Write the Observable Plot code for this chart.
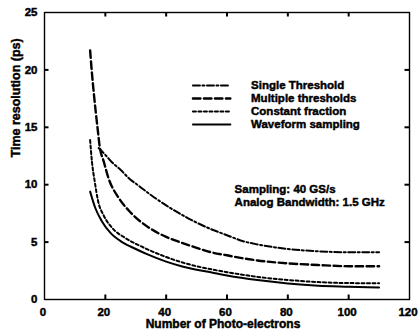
<!DOCTYPE html>
<html>
<head>
<meta charset="utf-8">
<script src="https://cdn.jsdelivr.net/npm/d3@7"></script>
<script src="https://cdn.jsdelivr.net/npm/@observablehq/plot@0.6"></script>
<style>
  html, body { margin: 0; padding: 0; background: #fff; }
  #chart svg { display: block; overflow: visible; }
  #chart svg text { font-weight: 700; fill: #000; stroke: #000; stroke-width: 0.45px; }
</style>
</head>
<body>
<div id="chart"></div>
<script>
// Time resolution (ps) versus number of photo-electrons for four timing methods.
const seriesNames = ["Single Threshold", "Multiple thresholds", "Constant fraction", "Waveform sampling"];

const singleX = [17.8, 20, 22, 25, 28, 30, 35, 40, 45, 50, 55, 60, 65, 70, 80, 90, 100, 110];
const singleY = [13.2, 12.6, 12.0, 11.3, 10.5, 10.1, 9.1, 8.2, 7.4, 6.7, 6.1, 5.6, 5.1, 4.8, 4.4, 4.2, 4.12, 4.12];

const multipleX = [15, 15.6, 16.2, 16.9, 17.5, 18.1, 19.5, 21, 24.4, 27.7, 32, 35, 40, 45, 50, 55, 60, 65, 70, 80, 90, 100, 110];
const multipleY = [21.7, 19.7, 18.0, 16.2, 14.8, 13.4, 12.0, 10.6, 8.85, 7.75, 6.7, 6.15, 5.45, 4.95, 4.5, 4.1, 3.85, 3.6, 3.4, 3.15, 3.0, 2.9, 2.9];

const constantX = [15, 15.6, 16.5, 17.6, 19.5, 22.2, 26.6, 32, 40, 45, 50, 55, 60, 70, 80, 90, 100, 110];
const constantY = [13.9, 12.0, 10.3, 8.6, 7.3, 6.25, 5.35, 4.6, 3.7, 3.25, 2.9, 2.62, 2.38, 1.97, 1.7, 1.52, 1.43, 1.42];

const waveformX = [15, 16.7, 18.9, 21.7, 25.5, 30, 33.7, 40, 45, 50, 55, 60, 70, 80, 90, 100, 110];
const waveformY = [9.4, 7.97, 6.8, 5.8, 5.0, 4.4, 3.95, 3.3, 2.9, 2.6, 2.35, 2.1, 1.7, 1.4, 1.2, 1.12, 1.05];

const xTicks = [0, 20, 40, 60, 80, 100, 120];
const yTicks = [0, 5, 10, 15, 20, 25];
const notes = ["Sampling: 40 GS/s", "Analog Bandwidth: 1.5 GHz"];

// Line appearance per series
const styles = [
  {dash: "7,2.5,2,2.5", width: 2.0},
  {dash: "7.5,3.5", width: 2.4},
  {dash: "3,2.5", width: 2.0},
  {dash: null, width: 2.0}
];

const seriesData = [
  [singleX, singleY],
  [multipleX, multipleY],
  [constantX, constantY],
  [waveformX, waveformY]
].map(([xs, ys]) => xs.map((x, i) => ({x, y: ys[i]})));

// Frame geometry
const W = 418, H = 330;
const M = {left: 44, right: 9, top: 12, bottom: 31};
const plotW = W - M.left - M.right;
const plotH = H - M.top - M.bottom;
const xDomain = [0, 120];
const yDomain = [0, 25];
const tickLen = 4.5;
// tick length expressed in data units of each axis
const tickDX = tickLen / plotW * (xDomain[1] - xDomain[0]);
const tickDY = tickLen / plotH * (yDomain[1] - yDomain[0]);

// Legend placement (data units) and spacing
const legend = {x1: 48.8, x2: 61.1, xText: 67.9, yTop: 18.64, step: 1.13};
const noteAnchor = {x: 62.5, yTop: 9.64, step: 1.19};

const inner = (t, [lo, hi]) => t > lo && t < hi;
const bold = {fontWeight: "bold", fill: "#000"};

const marks = [];

seriesData.forEach((data, i) => {
  marks.push(Plot.line(data, {
    x: "x", y: "y", curve: "monotone-x",
    stroke: "#000", strokeWidth: styles[i].width,
    strokeDasharray: styles[i].dash
  }));
  const ly = legend.yTop - i * legend.step;
  marks.push(Plot.line([{x: legend.x1, y: ly}, {x: legend.x2, y: ly}], {
    x: "x", y: "y", stroke: "#000", strokeWidth: styles[i].width,
    strokeDasharray: styles[i].dash
  }));
});

marks.push(Plot.text(seriesNames, {
  x: legend.xText, y: (d, i) => legend.yTop - i * legend.step,
  text: d => d, textAnchor: "start", lineAnchor: "middle", ...bold
}));

marks.push(Plot.text(notes, {
  x: noteAnchor.x, y: (d, i) => noteAnchor.yTop - i * noteAnchor.step,
  text: d => d, textAnchor: "start", lineAnchor: "middle", ...bold
}));

// Inward tick marks on all four sides
const xIn = xTicks.filter(t => inner(t, xDomain));
const yIn = yTicks.filter(t => inner(t, yDomain));
const tk = {stroke: "#000", strokeWidth: 2};
marks.push(Plot.ruleX(xIn, {x: d => d, y1: yDomain[0], y2: yDomain[0] + tickDY, ...tk}));
marks.push(Plot.ruleX(xIn, {x: d => d, y1: yDomain[1] - tickDY, y2: yDomain[1], ...tk}));
marks.push(Plot.ruleY(yIn, {y: d => d, x1: xDomain[0], x2: xDomain[0] + tickDX, ...tk}));
marks.push(Plot.ruleY(yIn, {y: d => d, x1: xDomain[1] - tickDX, x2: xDomain[1], ...tk}));

marks.push(Plot.frame({stroke: "#000", strokeWidth: 1.4}));

marks.push(Plot.axisX({ticks: xTicks, tickSize: 0, tickPadding: 8, dx: -1.5, label: null, tickFormat: d => String(d), ...bold}));
marks.push(Plot.axisY({ticks: yTicks, tickSize: 0, tickPadding: 7, label: null, tickFormat: d => String(d), ...bold}));

marks.push(Plot.text(["Number of Photo-electrons"], {
  frameAnchor: "bottom", dy: 25, dx: -4, lineAnchor: "middle", text: d => d, fontSize: 12, ...bold
}));
marks.push(Plot.text(["Time resolution (ps)"], {
  frameAnchor: "left", dx: -29, dy: 1.5, rotate: -90, lineAnchor: "middle", text: d => d, fontSize: 12.5, ...bold
}));

const chart = Plot.plot({
  width: W,
  height: H,
  marginLeft: M.left,
  marginRight: M.right,
  marginTop: M.top,
  marginBottom: M.bottom,
  x: {domain: xDomain},
  y: {domain: yDomain},
  style: {
    fontFamily: "'Liberation Sans', Arial, sans-serif",
    fontSize: "11.5px",
    fontWeight: "bold",
    color: "#000",
    background: "#fff"
  },
  marks
});

document.getElementById("chart").append(chart);
</script>
</body>
</html>
